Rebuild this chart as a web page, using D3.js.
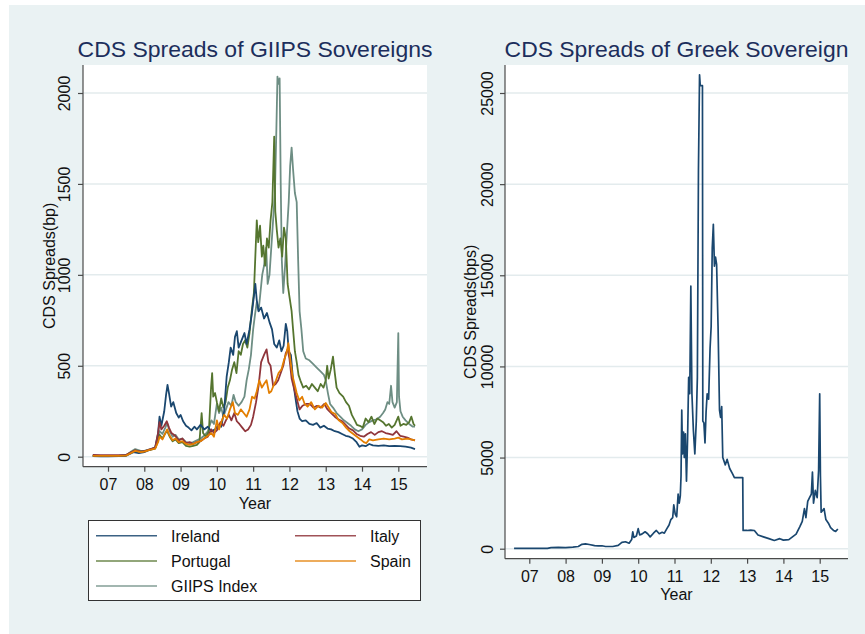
<!DOCTYPE html>
<html><head><meta charset="utf-8">
<script src="https://cdn.jsdelivr.net/npm/d3@7"></script>
<style>body{margin:0;background:#fff}svg{display:block}text{font-family:"Liberation Sans",Arial,Helvetica,sans-serif}</style>
</head><body><svg id="c" width="865" height="634"></svg>
<script>
// ---------------- data ----------------
const yearTicks = [2007, 2008, 2009, 2010, 2011, 2012, 2013, 2014, 2015];
const yearLabels = ["07", "08", "09", "10", "11", "12", "13", "14", "15"];
const leftTicks = [0, 500, 1000, 1500, 2000];
const rightTicks = [0, 5000, 10000, 15000, 20000, 25000];
const seriesNames = ["Ireland", "Italy", "Portugal", "Spain", "GIIPS Index"];

const ireland = [[2006.58,3],[2006.8,2],[2007.0,2],[2007.3,3],[2007.5,5],[2007.6,15],[2007.7,25],[2007.85,20],[2008.0,25],[2008.15,38],[2008.3,50],[2008.38,130],[2008.42,220],[2008.47,170],[2008.55,250],[2008.6,340],[2008.64,395],[2008.68,350],[2008.74,275],[2008.8,300],[2008.88,240],[2008.95,215],[2009.0,230],[2009.07,195],[2009.15,170],[2009.22,160],[2009.3,145],[2009.38,165],[2009.45,150],[2009.55,175],[2009.65,150],[2009.75,165],[2009.85,140],[2009.95,150],[2010.05,175],[2010.12,165],[2010.2,250],[2010.27,440],[2010.33,520],[2010.38,600],[2010.45,560],[2010.5,660],[2010.55,690],[2010.6,600],[2010.68,640],[2010.76,680],[2010.82,620],[2010.9,700],[2010.96,780],[2011.02,880],[2011.06,950],[2011.1,860],[2011.15,800],[2011.22,820],[2011.3,760],[2011.38,790],[2011.45,740],[2011.52,700],[2011.58,620],[2011.65,600],[2011.72,640],[2011.78,580],[2011.84,610],[2011.9,730],[2011.94,690],[2011.98,580],[2012.04,560],[2012.1,420],[2012.16,330],[2012.22,250],[2012.28,210],[2012.35,195],[2012.45,200],[2012.55,180],[2012.65,175],[2012.75,185],[2012.85,160],[2012.95,170],[2013.05,155],[2013.15,150],[2013.25,140],[2013.35,135],[2013.45,125],[2013.55,115],[2013.65,110],[2013.75,100],[2013.85,80],[2013.93,55],[2014.0,62],[2014.1,58],[2014.2,70],[2014.3,62],[2014.45,60],[2014.6,62],[2014.75,58],[2014.9,60],[2015.05,58],[2015.2,55],[2015.35,50],[2015.46,42]];

const italy = [[2006.58,10],[2006.8,9],[2007.0,8],[2007.3,8],[2007.5,10],[2007.65,25],[2007.75,35],[2007.9,28],[2008.0,30],[2008.15,40],[2008.3,50],[2008.38,130],[2008.42,190],[2008.47,150],[2008.55,170],[2008.62,195],[2008.68,160],[2008.75,130],[2008.85,115],[2008.95,90],[2009.05,100],[2009.15,75],[2009.25,80],[2009.35,70],[2009.45,80],[2009.55,85],[2009.65,100],[2009.75,110],[2009.85,150],[2009.92,130],[2010.0,145],[2010.1,190],[2010.18,170],[2010.25,200],[2010.33,230],[2010.4,200],[2010.48,240],[2010.55,195],[2010.62,180],[2010.7,160],[2010.78,140],[2010.86,150],[2010.94,175],[2011.0,220],[2011.08,300],[2011.15,390],[2011.22,520],[2011.3,560],[2011.37,590],[2011.42,520],[2011.48,500],[2011.55,390],[2011.62,400],[2011.69,420],[2011.76,460],[2011.83,500],[2011.9,570],[2011.95,590],[2012.0,540],[2012.06,430],[2012.12,380],[2012.2,320],[2012.28,260],[2012.36,280],[2012.46,290],[2012.56,290],[2012.66,270],[2012.76,280],[2012.86,270],[2012.96,290],[2013.05,260],[2013.15,240],[2013.25,220],[2013.35,205],[2013.45,195],[2013.55,175],[2013.65,155],[2013.75,145],[2013.85,125],[2013.95,115],[2014.05,110],[2014.15,125],[2014.25,135],[2014.35,120],[2014.45,135],[2014.55,140],[2014.65,130],[2014.75,125],[2014.85,120],[2014.95,140],[2015.05,115],[2015.15,110],[2015.25,105],[2015.35,95],[2015.46,90]];

const portugal = [[2006.58,5],[2006.8,5],[2007.0,4],[2007.3,5],[2007.5,8],[2007.65,25],[2007.75,35],[2007.9,28],[2008.0,30],[2008.15,38],[2008.3,45],[2008.38,90],[2008.42,120],[2008.5,100],[2008.58,130],[2008.63,140],[2008.7,110],[2008.78,85],[2008.86,95],[2008.95,75],[2009.05,80],[2009.15,60],[2009.25,55],[2009.35,60],[2009.45,65],[2009.52,80],[2009.58,240],[2009.62,130],[2009.7,110],[2009.78,140],[2009.84,380],[2009.87,460],[2009.9,330],[2009.95,350],[2010.0,300],[2010.06,250],[2010.12,320],[2010.18,270],[2010.24,300],[2010.3,380],[2010.36,420],[2010.42,480],[2010.48,520],[2010.54,460],[2010.6,580],[2010.66,560],[2010.72,620],[2010.78,640],[2010.84,600],[2010.9,680],[2010.96,800],[2011.02,900],[2011.07,1150],[2011.1,1300],[2011.14,1180],[2011.19,1270],[2011.24,1100],[2011.28,1160],[2011.33,1050],[2011.38,1200],[2011.43,1150],[2011.48,1300],[2011.53,1400],[2011.58,1760],[2011.61,1350],[2011.65,1250],[2011.7,1150],[2011.75,1200],[2011.8,1100],[2011.85,1260],[2011.9,1200],[2011.95,950],[2012.0,880],[2012.06,800],[2012.1,700],[2012.15,580],[2012.2,520],[2012.25,450],[2012.3,420],[2012.38,380],[2012.46,390],[2012.54,370],[2012.62,400],[2012.7,380],[2012.78,360],[2012.86,400],[2012.94,380],[2013.0,420],[2013.04,500],[2013.08,430],[2013.14,480],[2013.2,550],[2013.25,460],[2013.3,380],[2013.38,350],[2013.48,330],[2013.56,300],[2013.64,280],[2013.72,230],[2013.8,200],[2013.86,175],[2013.94,170],[2014.02,160],[2014.1,210],[2014.18,190],[2014.26,220],[2014.34,180],[2014.42,210],[2014.5,200],[2014.58,190],[2014.66,170],[2014.74,180],[2014.82,160],[2014.9,175],[2015.0,220],[2015.06,170],[2015.14,180],[2015.22,175],[2015.3,190],[2015.36,220],[2015.42,180],[2015.46,170]];

const spain = [[2006.58,5],[2006.8,5],[2007.0,4],[2007.3,4],[2007.5,6],[2007.65,22],[2007.75,32],[2007.9,25],[2008.0,28],[2008.15,38],[2008.3,45],[2008.38,80],[2008.42,110],[2008.5,95],[2008.58,130],[2008.63,150],[2008.7,115],[2008.78,90],[2008.86,100],[2008.95,80],[2009.05,85],[2009.15,70],[2009.25,65],[2009.35,70],[2009.45,80],[2009.55,85],[2009.65,100],[2009.75,115],[2009.85,130],[2009.92,110],[2010.0,200],[2010.06,150],[2010.12,190],[2010.2,230],[2010.28,210],[2010.36,260],[2010.44,300],[2010.5,240],[2010.58,230],[2010.66,260],[2010.74,240],[2010.82,220],[2010.9,260],[2010.97,330],[2011.04,320],[2011.1,360],[2011.17,420],[2011.24,380],[2011.3,400],[2011.37,420],[2011.44,350],[2011.5,360],[2011.56,390],[2011.63,420],[2011.7,460],[2011.78,480],[2011.85,530],[2011.92,570],[2011.97,625],[2012.02,540],[2012.08,450],[2012.14,400],[2012.2,350],[2012.27,310],[2012.35,330],[2012.42,290],[2012.5,275],[2012.6,300],[2012.7,260],[2012.8,280],[2012.9,270],[2013.0,295],[2013.08,270],[2013.16,245],[2013.26,235],[2013.36,200],[2013.46,185],[2013.56,160],[2013.66,140],[2013.76,125],[2013.86,110],[2013.96,95],[2014.05,80],[2014.12,75],[2014.2,95],[2014.3,90],[2014.45,95],[2014.6,100],[2014.75,95],[2014.9,100],[2015.0,105],[2015.1,95],[2015.25,100],[2015.35,95],[2015.46,90]];

const giips = [[2006.58,6],[2006.8,5],[2007.0,5],[2007.3,6],[2007.5,8],[2007.65,30],[2007.75,42],[2007.9,32],[2008.0,32],[2008.15,40],[2008.3,48],[2008.38,110],[2008.42,140],[2008.5,125],[2008.58,160],[2008.63,185],[2008.7,140],[2008.78,110],[2008.86,120],[2008.95,95],[2009.05,100],[2009.15,80],[2009.25,75],[2009.35,80],[2009.45,90],[2009.55,100],[2009.65,115],[2009.75,140],[2009.85,200],[2009.92,180],[2010.0,290],[2010.06,240],[2010.12,270],[2010.18,220],[2010.25,260],[2010.32,300],[2010.4,280],[2010.46,340],[2010.52,300],[2010.6,280],[2010.68,300],[2010.76,330],[2010.82,420],[2010.88,480],[2010.94,560],[2011.0,700],[2011.05,780],[2011.1,850],[2011.15,800],[2011.2,900],[2011.25,1000],[2011.3,1050],[2011.36,1150],[2011.4,950],[2011.45,1000],[2011.5,1150],[2011.55,1300],[2011.6,1450],[2011.64,1800],[2011.67,2090],[2011.7,2050],[2011.73,2080],[2011.76,1500],[2011.79,1080],[2011.83,900],[2011.88,1050],[2011.93,1230],[2011.98,1400],[2012.02,1600],[2012.06,1700],[2012.1,1580],[2012.15,1450],[2012.2,1400],[2012.24,1080],[2012.28,800],[2012.33,700],[2012.38,580],[2012.45,540],[2012.55,530],[2012.65,510],[2012.75,490],[2012.85,470],[2012.95,450],[2013.0,420],[2013.06,350],[2013.12,290],[2013.2,270],[2013.3,240],[2013.4,220],[2013.5,200],[2013.6,185],[2013.7,170],[2013.8,150],[2013.9,140],[2014.0,150],[2014.1,175],[2014.2,190],[2014.3,200],[2014.4,205],[2014.5,220],[2014.58,240],[2014.64,260],[2014.7,300],[2014.75,290],[2014.8,390],[2014.84,300],[2014.9,270],[2014.96,300],[2015.0,680],[2015.02,330],[2015.06,250],[2015.12,220],[2015.2,200],[2015.3,180],[2015.4,165],[2015.46,165]];

const greece = [[2006.58,15],[2007.0,15],[2007.5,20],[2007.6,60],[2007.8,70],[2008.0,60],[2008.2,90],[2008.35,120],[2008.45,240],[2008.55,260],[2008.65,230],[2008.8,170],[2008.9,150],[2009.0,160],[2009.1,120],[2009.3,120],[2009.45,180],[2009.55,350],[2009.65,380],[2009.75,300],[2009.82,500],[2009.85,930],[2009.88,620],[2009.95,700],[2010.0,1100],[2010.04,760],[2010.1,800],[2010.19,930],[2010.26,820],[2010.33,650],[2010.42,850],[2010.5,1000],[2010.58,820],[2010.66,900],[2010.72,850],[2010.79,1100],[2010.85,1300],[2010.9,1600],[2010.95,1700],[2010.98,2400],[2011.02,1900],[2011.06,1750],[2011.1,3000],[2011.13,2500],[2011.16,2900],[2011.18,4000],[2011.2,7600],[2011.22,5200],[2011.25,6400],[2011.27,5000],[2011.3,6300],[2011.33,3700],[2011.36,6000],[2011.39,9400],[2011.42,8500],[2011.45,14400],[2011.48,8500],[2011.52,6500],[2011.56,5200],[2011.6,7000],[2011.63,9400],[2011.66,20800],[2011.69,26000],[2011.71,25400],[2011.77,25400],[2011.78,7000],[2011.81,6900],[2011.84,5800],[2011.87,7500],[2011.9,8500],[2011.94,8200],[2011.98,11000],[2012.01,12200],[2012.04,16500],[2012.07,17800],[2012.1,15500],[2012.13,16000],[2012.16,15600],[2012.2,12200],[2012.24,7600],[2012.27,7200],[2012.3,7800],[2012.33,5000],[2012.4,4600],[2012.45,4900],[2012.52,4400],[2012.6,4100],[2012.65,3900],[2012.88,3900],[2012.89,1000],[2013.0,1000],[2013.1,1020],[2013.2,1000],[2013.3,750],[2013.45,650],[2013.6,550],[2013.75,450],[2013.9,550],[2014.0,470],[2014.15,500],[2014.25,650],[2014.35,800],[2014.45,1200],[2014.52,1500],[2014.58,2200],[2014.62,1700],[2014.67,2600],[2014.72,2800],[2014.77,3000],[2014.8,4200],[2014.83,2500],[2014.88,3200],[2014.93,2800],[2014.97,4300],[2015.0,8500],[2015.02,4000],[2015.04,2000],[2015.08,2100],[2015.12,2200],[2015.17,1600],[2015.24,1400],[2015.3,1150],[2015.38,1000],[2015.44,950],[2015.5,1080]];

const leftSeries = [ireland, italy, portugal, spain, giips];
const colors = ["#1a476f", "#90353b", "#55752f", "#e37e00", "#6e8e84"];
const drawOrder = [4, 2, 0, 1, 3];

// ---------------- drawing ----------------
const svg = d3.select("#c");
const BG = "#eaf2f3", GRID = "#e3ebed", AX = "#4a4a4a", TITLE = "#1c2e5c";
svg.append("rect").attr("x", 9).attr("y", 5).attr("width", 856).attr("height", 629).attr("fill", BG);

function fitText(sel, target) {
  const w = sel.node().getComputedTextLength();
  const fs = parseFloat(sel.attr("font-size"));
  sel.attr("font-size", (fs * target / w).toFixed(2));
}

function panel(cfg) {
  const g = svg.append("g");
  const {x, y, left, right, top, bottom} = cfg;
  g.append("rect").attr("x", left).attr("y", top).attr("width", right - left).attr("height", bottom - top).attr("fill", "#fff");
  g.selectAll(".grid").data(cfg.yTicks).join("line")
    .attr("x1", left).attr("x2", right).attr("y1", d => y(d)).attr("y2", d => y(d))
    .attr("stroke", GRID).attr("stroke-width", 1.5);
  const id = "clip" + cfg.name;
  g.append("clipPath").attr("id", id).append("rect")
    .attr("x", left).attr("y", top).attr("width", right - left).attr("height", bottom - top);
  const line = d3.line().x(d => x(d[0])).y(d => y(d[1]));
  const dg = g.append("g").attr("clip-path", `url(#${id})`);
  cfg.series.forEach(s => {
    dg.append("path").attr("d", line(s.data)).attr("fill", "none")
      .attr("stroke", s.color).attr("stroke-width", cfg.lw).attr("stroke-linejoin", "round");
  });
  g.append("line").attr("x1", left).attr("x2", left).attr("y1", top).attr("y2", bottom).attr("stroke", AX).attr("stroke-width", 1.2);
  g.append("line").attr("x1", left).attr("x2", right).attr("y1", bottom).attr("y2", bottom).attr("stroke", AX).attr("stroke-width", 1.2);
  const xa = d3.axisBottom(x).tickValues(yearTicks).tickFormat((d, i) => yearLabels[i]).tickSize(5).tickPadding(7);
  const xg = g.append("g").attr("transform", `translate(0,${bottom})`).call(xa);
  xg.select(".domain").remove();
  xg.selectAll(".tick line").attr("stroke", AX).attr("stroke-width", 1.2);
  xg.selectAll(".tick text").attr("font-size", 16).attr("fill", "#111").attr("font-family", '"Liberation Sans",Arial,sans-serif');
  const ya = d3.axisLeft(y).tickValues(cfg.yTicks).tickSize(5).tickPadding(0).tickFormat(d3.format("d"));
  const yg = g.append("g").attr("transform", `translate(${left},0)`).call(ya);
  yg.select(".domain").remove();
  yg.selectAll(".tick line").attr("stroke", AX).attr("stroke-width", 1.2);
  yg.selectAll(".tick text")
    .attr("font-size", 16).attr("fill", "#111").attr("font-family", '"Liberation Sans",Arial,sans-serif')
    .attr("x", null).attr("dy", null).attr("text-anchor", "middle")
    .attr("transform", `translate(${cfg.yLabelX - left},0) rotate(-90)`);
  const t = svg.append("text").attr("x", (left + right) / 2).attr("y", 57).attr("text-anchor", "middle")
    .attr("font-size", 22).attr("fill", TITLE).text(cfg.title);
  fitText(t, cfg.titleW);
  svg.append("text").attr("x", (left + right) / 2).attr("y", cfg.yearY).attr("text-anchor", "middle")
    .attr("font-size", 16).attr("fill", "#111").text("Year");
  svg.append("text").attr("transform", `translate(${cfg.yTitleX},${(top + bottom) / 2}) rotate(-90)`)
    .attr("text-anchor", "middle").attr("font-size", 16).attr("fill", "#111").text(cfg.yTitle);
}

const xL = d3.scaleLinear().domain([2007, 2015]).range([108, 398.3]);
const yL = d3.scaleLinear().domain([0, 2000]).range([456.7, 93]);
panel({name: "L", x: xL, y: yL, left: 83, right: 427, top: 65, bottom: 466.7, lw: 1.8,
  yTicks: leftTicks, yLabelX: 70, yTitleX: 54.5, yearY: 509,
  title: "CDS Spreads of GIIPS Sovereigns", titleW: 355, yTitle: "CDS Spreads(bp)",
  series: drawOrder.map(i => ({data: leftSeries[i], color: colors[i]}))});

const xR = d3.scaleLinear().domain([2007, 2015]).range([529.3, 819.7]);
const yR = d3.scaleLinear().domain([0, 25000]).range([548.7, 93]);
panel({name: "R", x: xR, y: yR, left: 505, right: 848, top: 65, bottom: 558.7, lw: 1.7,
  yTicks: rightTicks, yLabelX: 492.5, yTitleX: 475.5, yearY: 600,
  title: "CDS Spreads of Greek Sovereign", titleW: 344, yTitle: "CDS Spreads(bps)",
  series: [{data: greece, color: colors[0]}]});

const lg = svg.append("g");
lg.append("rect").attr("x", 88.5).attr("y", 520.5).attr("width", 332).attr("height", 80)
  .attr("fill", "#fff").attr("stroke", "#333").attr("stroke-width", 1);
const legPos = [[0, 0], [1, 0], [0, 1], [1, 1], [0, 2]];
seriesNames.forEach((n, i) => {
  const [c, r] = legPos[i];
  const lx = 96 + c * 199, ly = 535.7 + r * 25.2;
  lg.append("line").attr("x1", lx).attr("x2", lx + 61).attr("y1", ly).attr("y2", ly)
    .attr("stroke", colors[i]).attr("stroke-width", 1.5).attr("opacity", 0.85);
  lg.append("text").attr("x", lx + 75).attr("y", ly + 5.8).attr("font-size", 16).attr("fill", "#111").text(n);
});
</script></body></html>
